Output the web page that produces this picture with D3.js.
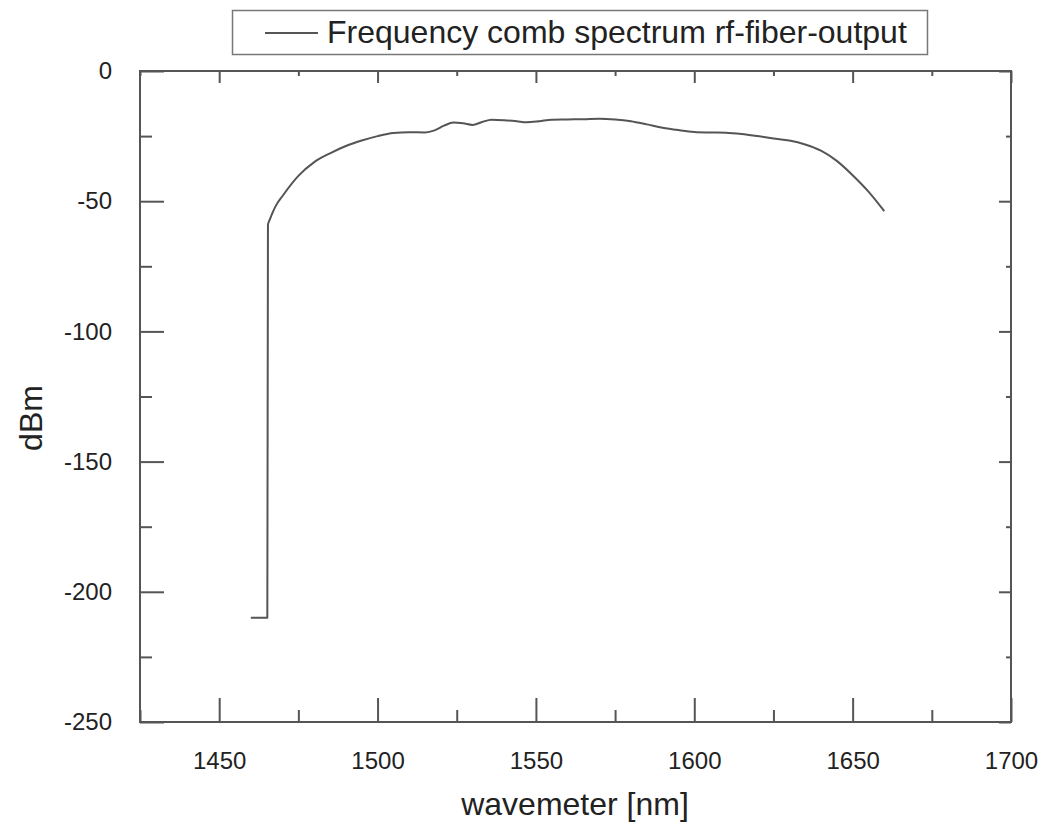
<!DOCTYPE html>
<meta charset="utf-8">
<style>
  body { margin: 0; background: #fff; }
  text { font-family: "Liberation Sans", Arial, sans-serif; fill: #222; }
</style>
<body>
<script src="https://d3js.org/d3.v7.min.js"></script>
<script>

var width = 1043,
    height = 831,
    margin = {top: 71, right: 32, bottom: 109, left: 140};

var seriesName = "Frequency comb spectrum rf-fiber-output";

// spectrum
var wavelength = [1460, 1465.2, 1465.4, 1466, 1467, 1468, 1470, 1475, 1480, 1485, 1490, 1495,
                  1500, 1505, 1510, 1515, 1518, 1521, 1524, 1527, 1530, 1533, 1536, 1540,
                  1544, 1547, 1551, 1555, 1560, 1565, 1570, 1575, 1580, 1585, 1590, 1595,
                  1600, 1605, 1610, 1615, 1620, 1625, 1630, 1635, 1640, 1645, 1650, 1655, 1660];
var power = [-210, -210, -59, -57, -54, -51.5, -48, -40.3, -35, -31.6, -28.8, -26.7,
             -25, -23.8, -23.5, -23.6, -22.8, -21, -19.8, -20.1, -20.7, -19.6, -18.7, -18.9,
             -19.3, -19.7, -19.3, -18.7, -18.6, -18.5, -18.3, -18.6, -19.3, -20.5, -21.8, -22.7,
             -23.4, -23.6, -23.7, -24.2, -25, -25.9, -26.7, -28.2, -30.6, -34.5, -40, -46.3, -53.8];

var xTicks = [1450, 1500, 1550, 1600, 1650, 1700],
    xMinor = [1425, 1475, 1525, 1575, 1625, 1675],
    yTicks = [-250, -200, -150, -100, -50, 0],
    yMinor = [-225, -175, -125, -75, -25];

var x = d3.scaleLinear().domain([1425, 1700]).range([margin.left, width - margin.right]);
var y = d3.scaleLinear().domain([-250, 0]).range([height - margin.bottom, margin.top]);

var svg = d3.select("body").append("svg")
    .attr("width", width)
    .attr("height", height);

var axisColor = "#555";
var plain = function(d) { return String(d); };  // hyphen minus like the original

function styleAxis(g) {
  g.select(".domain").remove();
  g.selectAll("line").attr("stroke", axisColor).attr("stroke-width", 2);
  g.selectAll("text").attr("font-size", 24).attr("fill", "#222");
}

// bottom: long inward ticks with labels
svg.append("g")
    .attr("transform", "translate(0," + y(-250) + ")")
    .call(d3.axisBottom(x).tickValues(xTicks).tickSizeInner(-24).tickPadding(30).tickFormat(plain))
    .call(styleAxis);
svg.append("g")
    .attr("transform", "translate(0," + y(-250) + ")")
    .call(d3.axisBottom(x).tickValues(xMinor).tickSizeInner(-12).tickFormat(""))
    .call(styleAxis);

// left
svg.append("g")
    .attr("transform", "translate(" + x(1425) + ",0)")
    .call(d3.axisLeft(y).tickValues(yTicks).tickSizeInner(-24).tickPadding(28).tickFormat(plain))
    .call(styleAxis);
svg.append("g")
    .attr("transform", "translate(" + x(1425) + ",0)")
    .call(d3.axisLeft(y).tickValues(yMinor).tickSizeInner(-12).tickFormat(""))
    .call(styleAxis);

// top and right: short ticks, no labels
svg.append("g")
    .attr("transform", "translate(0," + y(0) + ")")
    .call(d3.axisTop(x).tickValues(xTicks).tickSizeInner(-12).tickFormat(""))
    .call(styleAxis);
svg.append("g")
    .attr("transform", "translate(0," + y(0) + ")")
    .call(d3.axisTop(x).tickValues(xMinor).tickSizeInner(-5).tickFormat(""))
    .call(styleAxis);
svg.append("g")
    .attr("transform", "translate(" + x(1700) + ",0)")
    .call(d3.axisRight(y).tickValues(yTicks).tickSizeInner(-12).tickFormat(""))
    .call(styleAxis);
svg.append("g")
    .attr("transform", "translate(" + x(1700) + ",0)")
    .call(d3.axisRight(y).tickValues(yMinor).tickSizeInner(-5).tickFormat(""))
    .call(styleAxis);

// frame
svg.append("rect")
    .attr("x", x(1425))
    .attr("y", y(0))
    .attr("width", x(1700) - x(1425))
    .attr("height", y(-250) - y(0))
    .attr("fill", "none")
    .attr("stroke", axisColor)
    .attr("stroke-width", 2);

// the spectrum
var line = d3.line()
    .x(function(d) { return x(d[0]); })
    .y(function(d) { return y(d[1]); })
    .curve(d3.curveMonotoneX);

svg.append("path")
    .datum(d3.zip(wavelength, power))
    .attr("fill", "none")
    .attr("stroke", "#555")
    .attr("stroke-width", 2)
    .attr("stroke-linejoin", "round")
    .attr("d", line);

// axis titles
svg.append("text")
    .attr("x", 575)
    .attr("y", 815)
    .attr("text-anchor", "middle")
    .attr("font-size", 32)
    .text("wavemeter [nm]");

svg.append("text")
    .attr("transform", "translate(42,418) rotate(-90)")
    .attr("text-anchor", "middle")
    .attr("font-size", 32)
    .text("dBm");

// legend
var legend = svg.append("g");
legend.append("rect")
    .attr("x", 232.5).attr("y", 10.5)
    .attr("width", 695).attr("height", 44)
    .attr("fill", "#fff")
    .attr("stroke", "#777")
    .attr("stroke-width", 1.5);
legend.append("line")
    .attr("x1", 265).attr("x2", 318)
    .attr("y1", 33).attr("y2", 33)
    .attr("stroke", "#555")
    .attr("stroke-width", 2);
legend.append("text")
    .attr("x", 327)
    .attr("y", 43)
    .attr("font-size", 32)
    .text(seriesName);

</script>
